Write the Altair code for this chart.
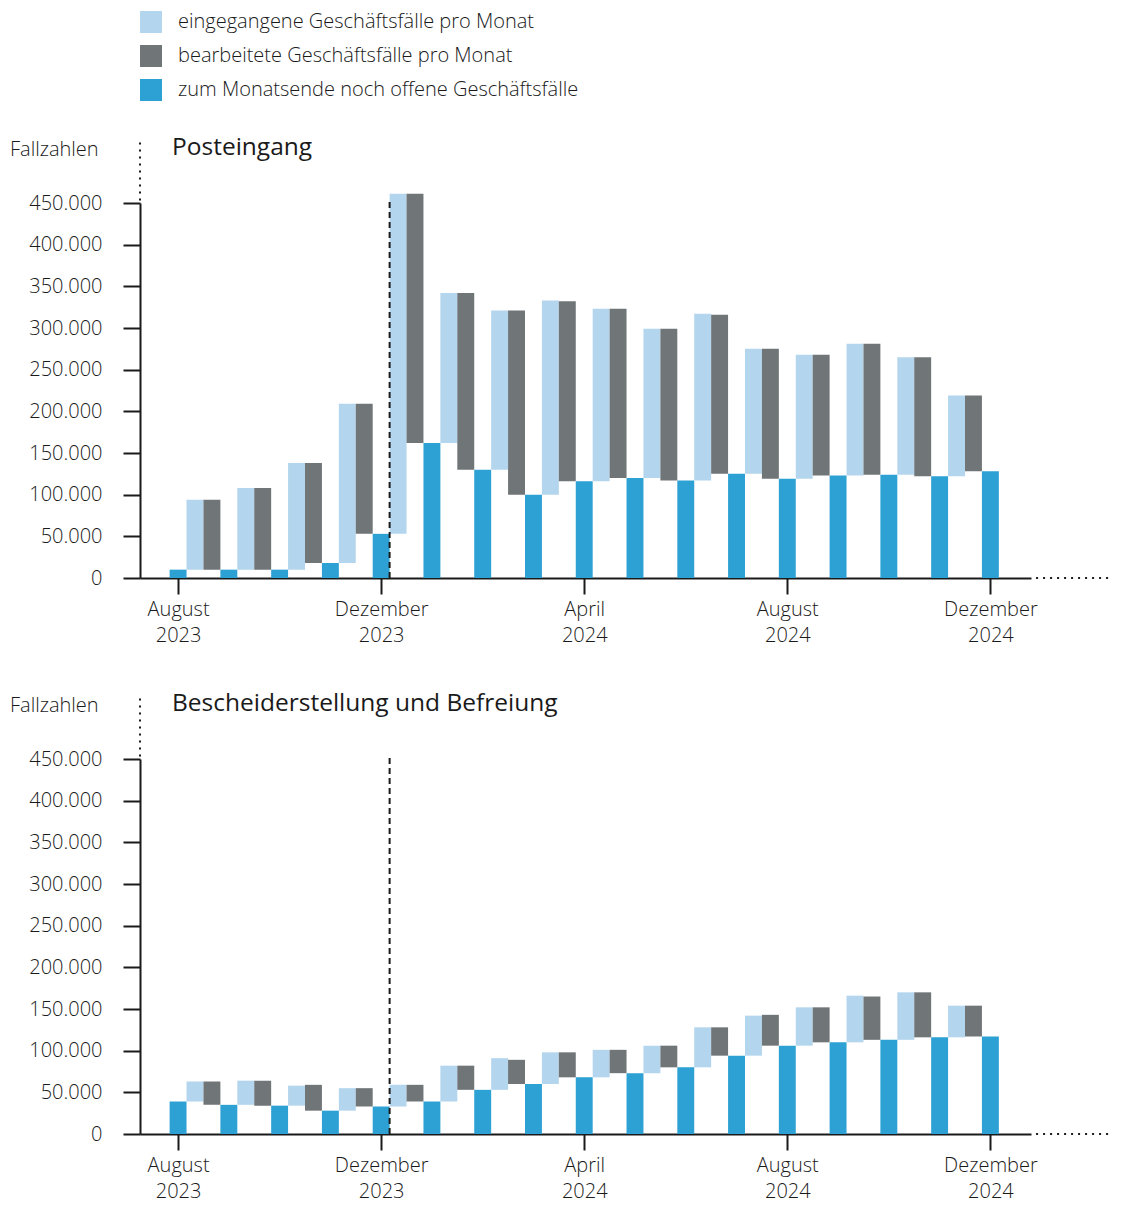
import altair as alt
import pandas as pd

# ---------------- data ----------------
months = ["2023-08", "2023-09", "2023-10", "2023-11", "2023-12", "2024-01", "2024-02",
          "2024-03", "2024-04", "2024-05", "2024-06", "2024-07", "2024-08", "2024-09",
          "2024-10", "2024-11", "2024-12"]

series_names = ["eingegangene Geschäftsfälle pro Monat",
                "bearbeitete Geschäftsfälle pro Monat",
                "zum Monatsende noch offene Geschäftsfälle"]
series_colors = ["#b3d5ed", "#707578", "#2da1d3"]

panel_titles = ["Posteingang", "Bescheiderstellung und Befreiung"]
y_title = "Fallzahlen"

# Posteingang (open at month end: Aug 2023..Dez 2024; incoming/processed: Sep 2023..Dez 2024)
post_open = [10000, 10000, 10000, 18000, 53000, 162000, 130000, 100000, 116000,
             120000, 117000, 125000, 119000, 123000, 124000, 122000, 128000]
post_in = [84000, 98000, 128000, 191000, 408000, 180000, 191000, 233000,
           207000, 179000, 200000, 150000, 149000, 158000, 141000, 97000]
post_done = [84000, 98000, 120000, 156000, 299000, 212000, 221000, 216000,
             203000, 182000, 191000, 156000, 145000, 157000, 143000, 91000]

# Bescheiderstellung und Befreiung
bes_open = [39000, 35000, 34000, 28000, 33000, 39000, 53000, 60000, 68000,
            73000, 80000, 94000, 106000, 110000, 113000, 116000, 117000]
bes_in = [24000, 29000, 24000, 27000, 26000, 43000, 38000, 38000,
          33000, 33000, 48000, 48000, 46000, 56000, 57000, 38000]
bes_done = [28000, 30000, 31000, 22000, 20000, 29000, 29000, 30000,
            28000, 26000, 34000, 37000, 42000, 52000, 54000, 37000]

tick_idx = [0, 4, 8, 12, 16]
tick_labels = [["August", "2023"], ["Dezember", "2023"], ["April", "2024"],
               ["August", "2024"], ["Dezember", "2024"]]
y_ticks = [0, 50000, 100000, 150000, 200000, 250000, 300000, 350000, 400000, 450000]

cut_month = 4  # Dezember 2023: dashed separator after this month's bar

# ---------------- style ----------------
FONT = "Open Sans"
INK = "#1a1a1a"
FS = 20
FW = 300
W, H = 891, 375
X_DOMAIN = [-0.75, 16.8]
Y_DOMAIN = [0, 450000]

xs = alt.Scale(domain=X_DOMAIN, nice=False, zero=False)
ys = alt.Scale(domain=Y_DOMAIN, nice=False, zero=False)

labels_js = "[" + ",".join("['" + a + "','" + b + "']" for a, b in tick_labels) + "]"
idx_js = "[" + ",".join(str(v) for v in tick_idx) + "]"

x_axis = alt.Axis(values=tick_idx, labelExpr=f"{labels_js}[indexof({idx_js}, datum.value)]",
                  title=None, grid=False, tickSize=16, tickWidth=2, tickColor=INK,
                  domainColor=INK, domainWidth=2, labelPadding=5, labelLineHeight=26,
                  labelFontSize=FS, labelFont=FONT, labelFontWeight=FW, labelColor=INK,
                  labelAlign="center", labelBaseline="top", labelFlush=False)
y_axis = alt.Axis(values=y_ticks, labelExpr="replace(format(datum.value, ',.0f'), ',', '.')",
                  title=None, grid=False, tickSize=17, tickWidth=2, tickColor=INK,
                  domainColor=INK, domainWidth=2, labelPadding=21,
                  labelFontSize=FS, labelFont=FONT, labelFontWeight=FW, labelColor=INK)


def X():
    return alt.X("x:Q", scale=xs, axis=x_axis)


def Y():
    return alt.Y("y:Q", scale=ys, axis=y_axis)


def panel(title, open_, in_, done_, show_legend):
    rows = []
    for i, v in enumerate(open_):
        rows.append(dict(series=series_names[2], month=months[i], x=i - 1 / 6, x2=i + 1 / 6, y=0, y2=v))
    for j in range(1, len(open_)):
        rows.append(dict(series=series_names[0], month=months[j], x=j - 5 / 6, x2=j - 1 / 2,
                         y=open_[j - 1], y2=open_[j - 1] + in_[j - 1]))
        rows.append(dict(series=series_names[1], month=months[j], x=j - 1 / 2, x2=j - 1 / 6,
                         y=open_[j], y2=open_[j] + done_[j - 1]))
    df = pd.DataFrame(rows)

    if show_legend:
        legend = alt.Legend(title=None, orient="none", legendX=0, legendY=-192,
                            symbolType="square", symbolSize=484, symbolStrokeWidth=0,
                            symbolOpacity=1, labelFontSize=FS, labelFont=FONT,
                            labelFontWeight=FW, labelColor=INK, labelLimit=0, rowPadding=12,
                            labelOffset=16, padding=0, direction="vertical")
    else:
        legend = None

    bars = alt.Chart(df).mark_rect().encode(
        x=X(), x2="x2:Q", y=Y(), y2="y2:Q",
        color=alt.Color("series:N", scale=alt.Scale(domain=series_names, range=series_colors),
                        legend=legend),
    )

    dashed = alt.Chart(pd.DataFrame({"x": [cut_month + 1 / 6], "y": [0], "y2": [455000]})).mark_rule(
        color=INK, strokeWidth=2, strokeDash=[6, 4]).encode(x=X(), y=Y(), y2="y2:Q")

    dot_y = alt.Chart(pd.DataFrame({"x": [X_DOMAIN[0]], "y": [453000], "y2": [528000]})).mark_rule(
        color=INK, strokeWidth=2, strokeDash=[2, 5]).encode(x=X(), y=Y(), y2="y2:Q")

    dot_x = alt.Chart(pd.DataFrame({"x": [16.9], "x2": [18.35], "y": [0]})).mark_rule(
        color=INK, strokeWidth=2, strokeDash=[2, 5]).encode(x=X(), x2="x2:Q", y=Y())

    ttl = alt.Chart(pd.DataFrame({"t": [title]})).mark_text(
        align="left", baseline="middle", fontSize=24.5, font=FONT, color=INK).encode(
        text="t:N", x=alt.value(32), y=alt.value(-55))

    ylab = alt.Chart(pd.DataFrame({"t": [y_title]})).mark_text(
        align="left", baseline="middle", fontSize=FS, font=FONT, fontWeight=FW, color=INK).encode(
        text="t:N", x=alt.value(-130), y=alt.value(-53))

    return alt.layer(bars, dashed, dot_y, dot_x, ttl, ylab).properties(width=W, height=H)


top = panel(panel_titles[0], post_open, post_in, post_done, True)
bottom = panel(panel_titles[1], bes_open, bes_in, bes_done, False)

chart = alt.vconcat(top, bottom, spacing=181, bounds="flush").resolve_scale(
    color="independent").resolve_legend(color="independent").properties(
    padding={"left": 2, "right": 0, "top": 3, "bottom": 0}, background="white").configure_view(
    stroke="transparent", strokeWidth=0)

chart.save("out.html", embed_options={"renderer": "svg", "actions": False})
